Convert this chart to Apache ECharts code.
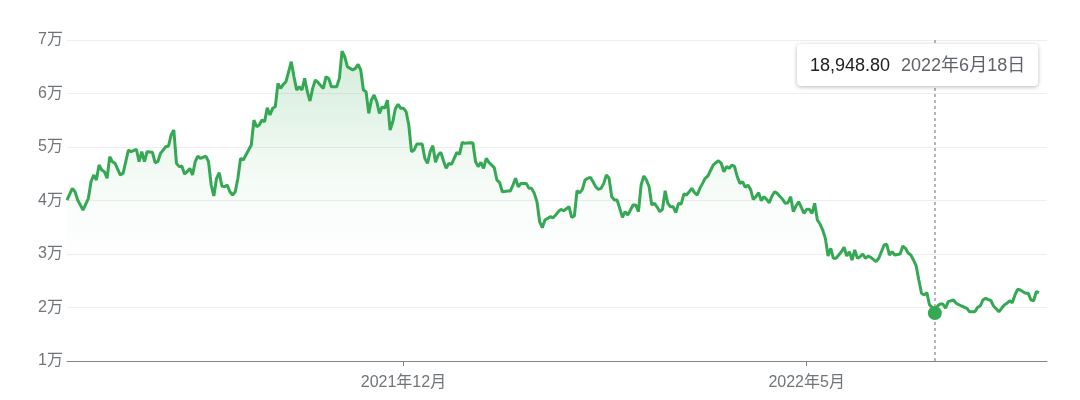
<!DOCTYPE html>
<html>
<head>
<meta charset="utf-8">
<script src="https://cdn.jsdelivr.net/npm/echarts@6.0.0/dist/echarts.min.js"></script>
<style>
html,body{margin:0;padding:0;background:#fff;}
#chart{width:1080px;height:400px;}
</style>
</head>
<body>
<div id="chart"></div>
<script>
// ---- data ----
const dates = [
'2021-07-28','2021-07-30','2021-07-31','2021-08-01','2021-08-03','2021-08-05','2021-08-06','2021-08-07','2021-08-08','2021-08-09',
'2021-08-10','2021-08-11','2021-08-12','2021-08-13','2021-08-14','2021-08-15','2021-08-17','2021-08-18','2021-08-20','2021-08-21',
'2021-08-23','2021-08-24','2021-08-25','2021-08-26','2021-08-27','2021-08-29','2021-08-30','2021-08-31','2021-09-01','2021-09-03',
'2021-09-04','2021-09-05','2021-09-06','2021-09-07','2021-09-08','2021-09-09','2021-09-10','2021-09-11','2021-09-12','2021-09-13',
'2021-09-14','2021-09-15','2021-09-16','2021-09-18','2021-09-19','2021-09-20','2021-09-21','2021-09-22','2021-09-23','2021-09-24',
'2021-09-25','2021-09-26','2021-09-27','2021-09-28','2021-09-29','2021-09-30','2021-10-01','2021-10-02','2021-10-03','2021-10-05',
'2021-10-06','2021-10-07','2021-10-08','2021-10-09','2021-10-10','2021-10-11','2021-10-12','2021-10-13','2021-10-14','2021-10-15',
'2021-10-16','2021-10-17','2021-10-18','2021-10-19','2021-10-20','2021-10-21','2021-10-22','2021-10-23','2021-10-24','2021-10-25',
'2021-10-26','2021-10-27','2021-10-28','2021-10-29','2021-10-30','2021-11-01','2021-11-02','2021-11-03','2021-11-04','2021-11-06',
'2021-11-07','2021-11-08','2021-11-09','2021-11-10','2021-11-11','2021-11-12','2021-11-13','2021-11-14','2021-11-15','2021-11-16',
'2021-11-17','2021-11-18','2021-11-19','2021-11-20','2021-11-21','2021-11-22','2021-11-23','2021-11-24','2021-11-25','2021-11-26',
'2021-11-27','2021-11-28','2021-11-29','2021-11-30','2021-12-01','2021-12-02','2021-12-03','2021-12-04','2021-12-05','2021-12-06',
'2021-12-08','2021-12-09','2021-12-10','2021-12-11','2021-12-12','2021-12-13','2021-12-14','2021-12-15','2021-12-16','2021-12-17',
'2021-12-18','2021-12-19','2021-12-21','2021-12-22','2021-12-23','2021-12-24','2021-12-26','2021-12-27','2021-12-28','2021-12-29',
'2021-12-30','2021-12-31','2022-01-01','2022-01-02','2022-01-04','2022-01-05','2022-01-06','2022-01-07','2022-01-09','2022-01-10',
'2022-01-11','2022-01-12','2022-01-13','2022-01-14','2022-01-16','2022-01-17','2022-01-18','2022-01-19','2022-01-20','2022-01-21',
'2022-01-22','2022-01-23','2022-01-25','2022-01-26','2022-01-27','2022-01-28','2022-01-29','2022-01-30','2022-02-01','2022-02-02',
'2022-02-03','2022-02-04','2022-02-05','2022-02-06','2022-02-07','2022-02-08','2022-02-09','2022-02-10','2022-02-11','2022-02-12',
'2022-02-13','2022-02-14','2022-02-15','2022-02-16','2022-02-17','2022-02-18','2022-02-19','2022-02-20','2022-02-21','2022-02-22',
'2022-02-23','2022-02-24','2022-02-25','2022-02-26','2022-02-27','2022-02-28','2022-03-01','2022-03-02','2022-03-03','2022-03-04',
'2022-03-05','2022-03-06','2022-03-07','2022-03-08','2022-03-09','2022-03-10','2022-03-11','2022-03-12','2022-03-13','2022-03-14',
'2022-03-15','2022-03-16','2022-03-17','2022-03-18','2022-03-19','2022-03-20','2022-03-21','2022-03-22','2022-03-23','2022-03-24',
'2022-03-25','2022-03-27','2022-03-28','2022-03-29','2022-03-30','2022-03-31','2022-04-01','2022-04-02','2022-04-03','2022-04-04',
'2022-04-05','2022-04-06','2022-04-07','2022-04-08','2022-04-09','2022-04-10','2022-04-11','2022-04-12','2022-04-13','2022-04-14',
'2022-04-15','2022-04-16','2022-04-17','2022-04-18','2022-04-19','2022-04-20','2022-04-22','2022-04-23','2022-04-24','2022-04-25',
'2022-04-26','2022-04-27','2022-04-28','2022-04-30','2022-05-01','2022-05-02','2022-05-03','2022-05-04','2022-05-05','2022-05-06',
'2022-05-07','2022-05-08','2022-05-09','2022-05-10','2022-05-11','2022-05-12','2022-05-13','2022-05-14','2022-05-15','2022-05-16',
'2022-05-17','2022-05-18','2022-05-19','2022-05-20','2022-05-21','2022-05-22','2022-05-23','2022-05-24','2022-05-25','2022-05-27',
'2022-05-28','2022-05-30','2022-05-31','2022-06-01','2022-06-02','2022-06-03','2022-06-05','2022-06-06','2022-06-07','2022-06-08',
'2022-06-09','2022-06-10','2022-06-11','2022-06-12','2022-06-13','2022-06-14','2022-06-15','2022-06-16','2022-06-17','2022-06-18',
'2022-06-19','2022-06-20','2022-06-21','2022-06-22','2022-06-23','2022-06-25','2022-06-26','2022-06-28','2022-06-30','2022-07-01',
'2022-07-03','2022-07-04','2022-07-05','2022-07-06','2022-07-07','2022-07-09','2022-07-10','2022-07-12','2022-07-13','2022-07-14',
'2022-07-15','2022-07-16','2022-07-17','2022-07-18','2022-07-19','2022-07-20','2022-07-21','2022-07-22','2022-07-23','2022-07-24',
'2022-07-25','2022-07-26','2022-07-27'
];
const prices = [
40090,42280,41640,40090,38220,40400,43510,44760,43830,46630,
45700,45380,44150,48180,47250,46950,44760,45080,49440,49120,
49570,47250,49120,47250,49120,49000,47060,47250,48800,50050,
50180,52240,53170,46950,46330,46450,44950,45380,46010,44760,
47250,48310,47870,48310,47250,42890,40840,44150,45190,42710,
42580,42890,41640,41030,41640,44150,47870,47560,48500,50370,
55040,53790,54110,55040,54730,57350,55980,57230,57530,61890,
60950,61700,62200,64070,65940,63140,60650,61270,60650,62820,
60340,58600,60950,62510,62070,60950,63140,62820,61270,61270,
62820,67930,66870,65010,64700,64390,64700,65450,64390,60650,
60340,56290,58770,59710,58460,56290,57530,57230,58770,53170,
54730,57230,57970,57230,57230,56600,54110,49120,49440,50560,
50560,47870,46950,49120,50240,47130,48500,49000,47380,46010,
46950,46760,49000,48620,50870,50680,50800,50740,47250,46330,
47130,46010,47870,47130,46140,43830,43390,41640,41770,41770,
42890,44150,42580,43200,43200,42270,42270,41330,39770,36040,
34920,36350,36970,36780,37290,37910,38350,38090,38840,36850,
37100,41830,41460,42080,43830,44150,44340,43510,42580,42080,
42270,43200,44760,44150,40710,40090,40090,38540,36850,37910,
37290,38220,39160,39160,37910,42890,44580,43830,42580,39160,
39470,38780,37910,38350,41830,39470,38840,38840,37730,39470,
39340,41210,41030,41640,42270,41460,41030,42270,43200,44150,
44580,46630,47060,47430,46950,45380,46330,46010,46630,46330,
44460,43200,43510,42460,42890,42080,40210,40710,41460,39960,
40710,40210,39590,40840,41640,41330,40210,39470,39590,40710,
37910,38970,39770,37600,38350,38350,37600,39470,36350,35610,
34480,32920,29620,31060,29200,29200,29810,30430,31250,29620,
30430,28880,30750,29200,29500,30000,29200,29620,29380,28570,
29200,31680,31810,29810,30430,29810,30000,31490,31060,30190,
29810,28880,27760,25140,22650,22340,22770,20470,20030,18948.80,
20280,20650,20650,19850,21090,21400,20780,20280,19850,19210,
19210,20030,20280,21400,21720,21270,20280,19210,19850,20470,
20780,21270,20900,22340,23400,23270,22960,22650,22650,21400,
21270,22960,22770
];
const highlightDate = '2022-06-18';
const xTickDates = ['2021-12-01', '2022-05-01'];
const xRange = ['2021-07-28', '2022-07-30'];
const yTicks = [10000, 20000, 30000, 40000, 50000, 60000, 70000];

// ---- chart ----
const toTime = s => { const p = s.split('-').map(Number); return new Date(p[0], p[1] - 1, p[2]).getTime(); };
const seriesData = dates.map((d, i) => [toTime(d), prices[i]]);
const hlIndex = dates.indexOf(highlightDate);
const FONT = '"Liberation Sans", Arial, "Noto Sans CJK SC", sans-serif';
const GREEN = '#34a853';

const chart = echarts.init(document.getElementById('chart'), null, {renderer: 'canvas'});
chart.setOption({
  animation: false,
  backgroundColor: '#fff',
  textStyle: {fontFamily: FONT},
  grid: {left: 67, right: 33, top: 40, bottom: 39, containLabel: false},
  tooltip: {
    trigger: 'axis',
    alwaysShowContent: true,
    transitionDuration: 0,
    backgroundColor: '#fff',
    borderWidth: 0,
    padding: [10, 13],
    extraCssText: 'box-shadow:0 1px 4px rgba(0,0,0,0.28);border-radius:4px;line-height:22px;',
    textStyle: {fontFamily: FONT, fontSize: 18, color: '#202124'},
    axisPointer: {
      type: 'line',
      snap: true,
      z: 1,
      lineStyle: {color: '#9aa0a6', width: 1.5, type: [3, 3]},
      label: {show: false}
    },
    position: function (point) {
      return [point[0] - 138, 44];
    },
    formatter: function (params) {
      const p = params[0];
      const v = p.value[1];
      const d = new Date(p.value[0]);
      const vs = v.toLocaleString('en-US', {minimumFractionDigits: 2, maximumFractionDigits: 2});
      const ds = d.getFullYear() + '年' + (d.getMonth() + 1) + '月' + d.getDate() + '日';
      return '<span style="color:#202124">' + vs + '</span>' +
             '<span style="color:#5f6368;margin-left:11px">' + ds + '</span>';
    }
  },
  xAxis: {
    type: 'value',
    min: toTime(xRange[0]),
    max: toTime(xRange[1]),
    axisLine: {show: true, onZero: false, lineStyle: {color: '#80868b', width: 1}},
    axisTick: {show: true, customValues: xTickDates.map(toTime), length: 5, lineStyle: {color: '#80868b', width: 1}},
    axisLabel: {
      customValues: xTickDates.map(toTime),
      color: '#70757a',
      fontSize: 16,
      fontFamily: FONT,
      margin: 14,
      formatter: function (v) {
        const d = new Date(v);
        return d.getFullYear() + '年' + (d.getMonth() + 1) + '月';
      }
    },
    splitLine: {show: false}
  },
  yAxis: {
    type: 'value',
    min: yTicks[0],
    max: yTicks[yTicks.length - 1],
    interval: yTicks[1] - yTicks[0],
    axisLine: {show: false},
    axisTick: {show: false},
    axisLabel: {
      color: '#70757a',
      fontSize: 16,
      fontFamily: FONT,
      margin: 4,
      formatter: v => (v / 10000) + '万'
    },
    splitLine: {show: true, lineStyle: {color: '#eeeeee', width: 1}}
  },
  series: [{
    type: 'line',
    z: 5,
    data: seriesData,
    showSymbol: false,
    symbol: 'none',
    lineStyle: {color: GREEN, width: 3},
    itemStyle: {color: GREEN},
    emphasis: {disabled: true},
    areaStyle: {
      color: new echarts.graphic.LinearGradient(0, 0, 0, 1, [
        {offset: 0, color: 'rgba(52,168,83,0.30)'},
        {offset: 0.16, color: 'rgba(52,168,83,0.22)'},
        {offset: 0.35, color: 'rgba(52,168,83,0.10)'},
        {offset: 0.5, color: 'rgba(52,168,83,0.04)'},
        {offset: 0.7, color: 'rgba(52,168,83,0)'},
        {offset: 1, color: 'rgba(52,168,83,0)'}
      ])
    },
    markPoint: {
      symbol: 'circle',
      symbolSize: 14,
      silent: true,
      animation: false,
      z: 100,
      label: {show: false},
      itemStyle: {color: GREEN},
      data: [{coord: [toTime(dates[hlIndex]), prices[hlIndex]]}]
    }
  }]
});
chart.dispatchAction({type: 'showTip', seriesIndex: 0, dataIndex: hlIndex});
</script>
</body>
</html>
